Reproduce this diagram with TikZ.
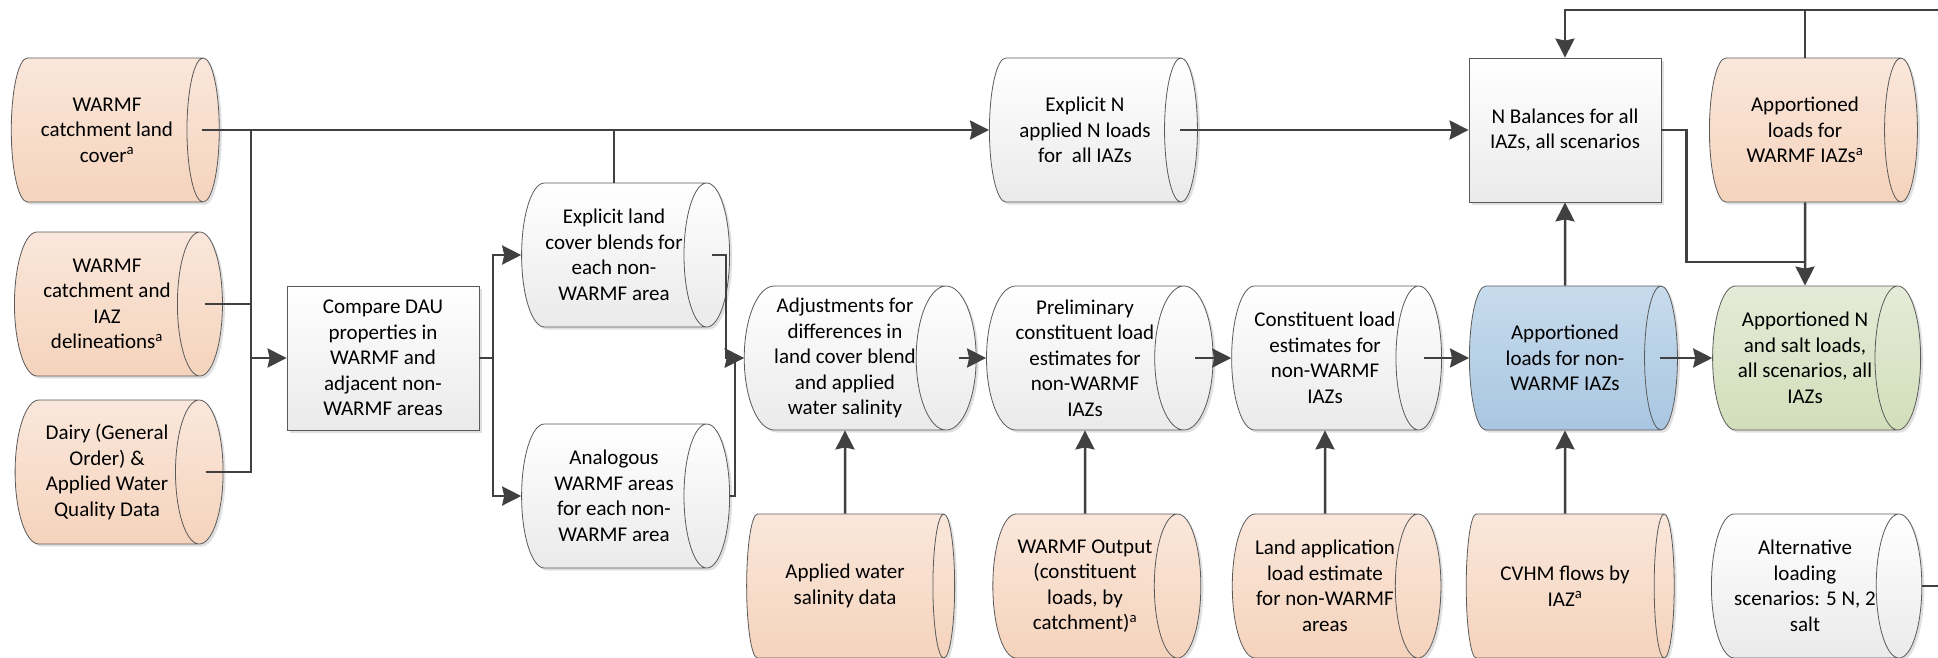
\documentclass[tikz,border=0pt]{standalone}
\usepackage{fontspec}
\setmainfont{Carlito}
\usepackage{xcolor}
\usetikzlibrary{shapes.geometric}
\usetikzlibrary{arrows.meta}
\usetikzlibrary{positioning}
\usetikzlibrary{shadows}

\definecolor{outl}{HTML}{5A5A5A}
\definecolor{wire}{HTML}{404040}
\definecolor{peachT}{HTML}{FAE7DB}
\definecolor{peachB}{HTML}{F5D3BC}
\definecolor{greyT}{HTML}{FFFFFF}
\definecolor{greyB}{HTML}{EAEAEA}
\definecolor{blueT}{HTML}{C7DBEC}
\definecolor{blueB}{HTML}{A9C6E1}
\definecolor{greenT}{HTML}{E5EBD8}
\definecolor{greenB}{HTML}{D2DEBA}

\begin{document}
\begin{tikzpicture}[
    x=1pt, y=-1pt,
    every node/.style={font=\fontsize{21}{25.5}\selectfont, align=center, inner sep=0pt},
    store/.style={cylinder, draw=outl, line width=0.8pt, aspect=0.5,
      minimum width=144pt, minimum height=208pt,
      drop shadow={shadow xshift=2.5pt, shadow yshift=-2.5pt, fill=black, opacity=0.12}},
    peach/.style={store, top color=peachT, bottom color=peachB},
    plain/.style={store, top color=greyT, bottom color=greyB},
    bluish/.style={store, top color=blueT, bottom color=blueB},
    greenish/.style={store, top color=greenT, bottom color=greenB},
    procbox/.style={rectangle, draw=outl, line width=0.8pt, minimum width=192pt, minimum height=144pt,
      top color=white, bottom color=greyB,
      drop shadow={shadow xshift=2.5pt, shadow yshift=-2.5pt, fill=black, opacity=0.12}},
    link/.style={draw=wire, line width=2.5pt},
    flow/.style={link, -{Stealth[length=19pt, width=19pt, inset=2pt]}},
  ]
  \useasboundingbox (0,0) rectangle (1938,657);

  % inputs on the left
  \node[peach] (lc) at (107,130) {WARMF\\catchment land\\cover\textsuperscript{a}};
  \node[peach] (dl) at (107,304) {WARMF\\catchment and\\IAZ\\delineations\textsuperscript{a}};
  \node[peach] (dy) at (107,472) {Dairy (General\\Order) \&\\Applied Water\\Quality Data};
  \node[procbox] (cmp) at (383,358) {Compare DAU\\properties in\\WARMF and\\adjacent non-\\WARMF areas};

  % land cover blends
  \node[plain] (elc) at (614,255) {Explicit land\\cover blends for\\each non-\\WARMF area};
  \node[plain] (ana) at (614,496) {Analogous\\WARMF areas\\for each non-\\WARMF area};

  % middle row
  \node[plain] (adj)  at (845,358)  {Adjustments for\\differences in\\land cover blend\\and applied\\water salinity};
  \node[plain] (prel) at (1085,358) {Preliminary\\constituent load\\estimates for\\non-WARMF\\IAZs};
  \node[plain] (cons) at (1325,358) {Constituent load\\estimates for\\non-WARMF\\IAZs};
  \node[bluish] (apnw) at (1565,358) {Apportioned\\loads for non-\\WARMF IAZs};
  \node[greenish] (apn) at (1805,358) {Apportioned N\\and salt loads,\\all scenarios, all\\IAZs};

  % top row
  \node[plain] (expn) at (1085,130) {Explicit N\\applied N loads\\for\ \ all IAZs};
  \node[procbox] (nbal) at (1565,130) {N Balances for all\\IAZs, all scenarios};
  \node[peach] (apw) at (1805,130) {Apportioned\\loads for\\WARMF IAZs\textsuperscript{a}};

  % bottom row
  \node[peach] (sal)  at (845,586)  {Applied water\\salinity data};
  \node[peach] (wout) at (1085,586) {WARMF Output\\(constituent\\loads, by\\catchment)\textsuperscript{a}};
  \node[peach] (land) at (1325,586) {Land application\\load estimate\\for non-WARMF\\areas};
  \node[peach] (cvhm) at (1565,586) {CVHM flows by\\IAZ\textsuperscript{a}};
  \node[plain] (alt)  at (1805,586) {Alternative\\loading\\scenarios: 5 N, 2\\salt};

  \coordinate (busA) at (251,358);
  \coordinate (busB) at (493,358);
  \coordinate (mergeN) at (1805,262);
  \coordinate (topR) at (1938,10);
  \coordinate (altR) at (1938,586);

  \draw[flow] ([xshift=-18pt]lc.east) -- (expn.west);
  \draw[link] ([xshift=-18pt]lc.east) -| (busA);
  \draw[link] ([xshift=-18pt]dl.east) -| (busA);
  \draw[link] ([xshift=-18pt]dy.east) -| (busA);
  \draw[flow] (busA) -- (cmp.west);
  \draw[link] (elc.north) -- (elc.north |- lc.east);

  \draw[link] (cmp.east) -- (busB);
  \draw[flow] (busB) |- (elc.west);
  \draw[flow] (busB) |- (ana.west);
  \draw[flow] ([xshift=-18pt]elc.east) -- ++(14,0) |- (adj.west);
  \draw[flow] (ana.east) -- ++(5,0) |- (adj.west);

  \draw[flow] ([xshift=-18pt]adj.east) -- (prel.west);
  \draw[flow] ([xshift=-18pt]prel.east) -- (cons.west);
  \draw[flow] ([xshift=-18pt]cons.east) -- (apnw.west);
  \draw[flow] ([xshift=-18pt]apnw.east) -- (apn.west);
  \draw[flow] ([xshift=-18pt]expn.east) -- (nbal.west);

  \draw[flow] (sal.north) -- (adj.south);
  \draw[flow] (wout.north) -- (prel.south);
  \draw[flow] (land.north) -- (cons.south);
  \draw[flow] (cvhm.north) -- (apnw.south);
  \draw[flow] (apnw.north) -- (nbal.south);

  \draw[link] (nbal.east) -- ++(25,0) |- (mergeN);
  \draw[flow] (apw.south) -- (apn.north);
  \draw[flow] (topR) -| (nbal.north);
  \draw[link] (apw.north) -- (apw.north |- topR);
  \draw[link] (alt.east) -- (altR);
\end{tikzpicture}
\end{document}
